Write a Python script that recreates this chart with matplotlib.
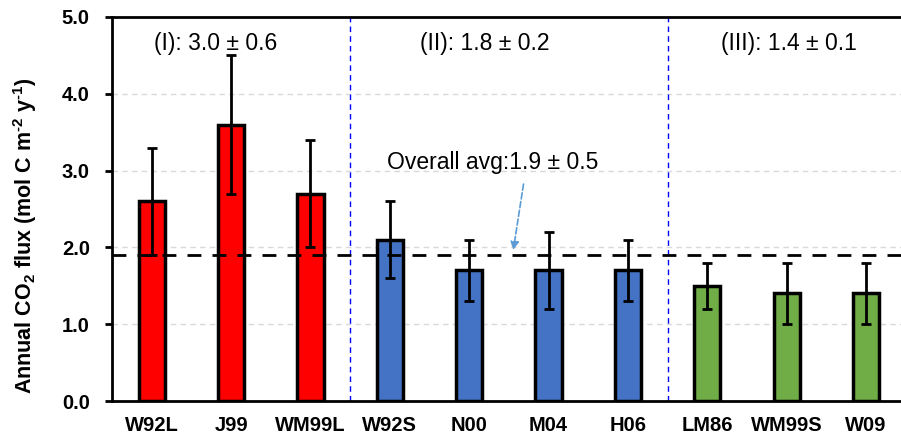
import numpy as np
import matplotlib.pyplot as plt

plt.rcParams['font.family'] = ['Liberation Sans', 'DejaVu Sans']
plt.rcParams['mathtext.fontset'] = 'custom'
plt.rcParams['mathtext.rm'] = 'Liberation Sans:bold'
plt.rcParams['mathtext.bf'] = 'Liberation Sans:bold'

sites = ['W92L', 'J99', 'WM99L', 'W92S', 'N00', 'M04', 'H06', 'LM86', 'WM99S', 'W09']
flux = [2.6, 3.6, 2.7, 2.1, 1.7, 1.7, 1.7, 1.5, 1.4, 1.4]
err = [0.7, 0.9, 0.7, 0.5, 0.4, 0.5, 0.4, 0.3, 0.4, 0.4]
groups = [0, 0, 0, 1, 1, 1, 1, 2, 2, 2]
group_colors = ['#ff0000', '#4472c4', '#70ad47']
group_labels = ['(I): 3.0 \u00b1 0.6', '(II): 1.8 \u00b1 0.2', '(III): 1.4 \u00b1 0.1']
overall_avg = 1.9

fig = plt.figure(figsize=(9.01, 4.36), dpi=100)
ax = fig.add_axes([112 / 901, 35 / 436, 1 - 112 / 901, 384 / 436])

x = np.arange(len(sites))
colors = [group_colors[g] for g in groups]

# light dashed gridlines
for yv in [1, 2, 3, 4]:
    ax.axhline(yv, color='#d9d9d9', lw=1, ls=(0, (4, 3)), zorder=0)

ax.bar(x, flux, width=0.33, color=colors, edgecolor='black', linewidth=2.5, zorder=2)
ax.errorbar(x, flux, yerr=err, fmt='none', ecolor='black', elinewidth=2,
            capsize=3.5, capthick=2, zorder=3)

# group separators
for xs in [2.5, 6.5]:
    ax.axvline(xs, color='#0000ff', lw=1, ls=(0, (4, 3)), zorder=1)

# overall average
ax.axhline(overall_avg, color='black', lw=2, ls=(0, (5, 4)), zorder=4)
ax.annotate('', xy=(4.55, overall_avg + 0.03), xytext=(4.69, 2.86),
            arrowprops=dict(arrowstyle='-|>', color='#5b9bd5', lw=1.2,
                            ls='--', mutation_scale=12))
ax.text(4.3, 3.1, 'Overall avg:1.9 \u00b1 0.5', fontsize=16.5, ha='center', va='center')

# group averages
for xc, lab in zip([0.8, 4.2, 8.03], group_labels):
    ax.text(xc, 4.66, lab, fontsize=16.5, ha='center', va='center')

ax.set_xlim(-0.5, 9.44)
ax.set_ylim(0, 5)
ax.set_xticks(x)
ax.set_xticklabels(sites, fontsize=14.5, fontweight='bold')
ax.set_yticks(np.arange(0, 5.1, 1))
ax.set_yticklabels(['%.1f' % v for v in np.arange(0, 5.1, 1)], fontsize=14.5, fontweight='bold')
ax.tick_params(axis='x', length=0, pad=11)
ax.tick_params(axis='y', length=5, width=2, pad=11)
ax.set_ylabel('Annual CO$_2$ flux (mol C m$^{\u2010 2}$ y$^{\u2010 1}$)', fontsize=15.5, fontweight='bold')
ax.yaxis.set_label_coords(-0.093, 0.43)

for side in ['left', 'bottom', 'top']:
    ax.spines[side].set_linewidth(2)
ax.spines['right'].set_visible(False)

fig.savefig('out.png', dpi=100)
